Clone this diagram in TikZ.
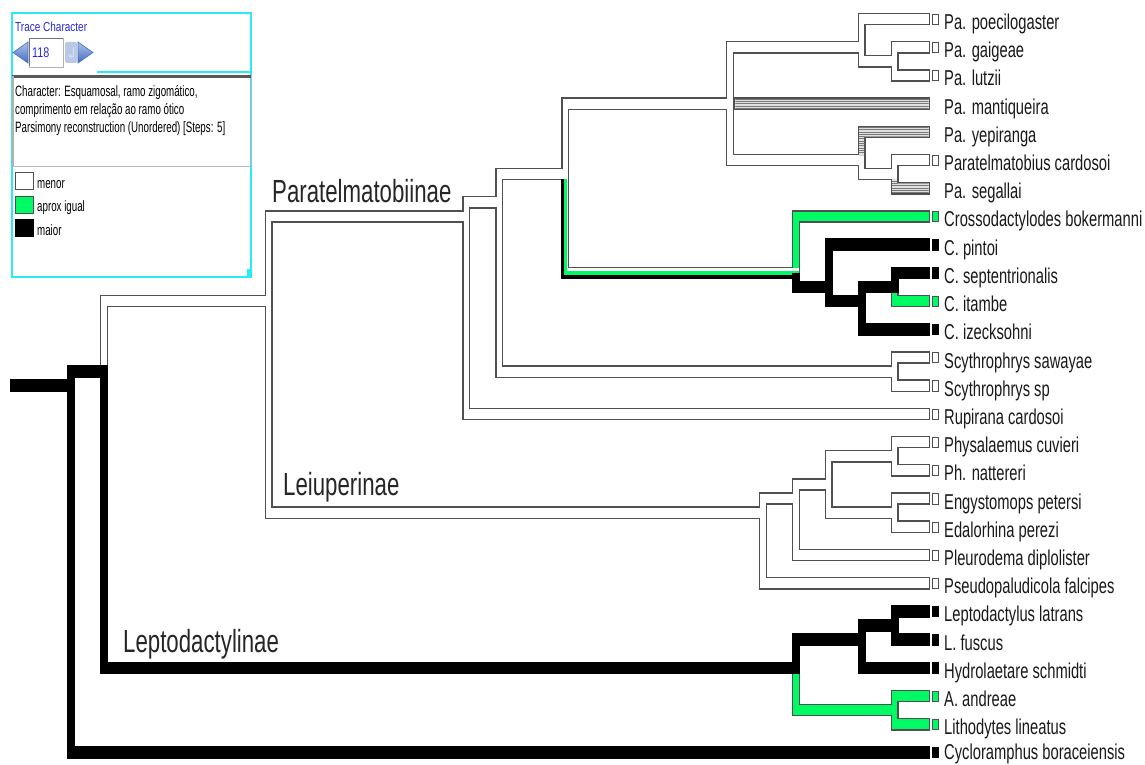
\documentclass[tikz,border=0pt]{standalone}
\usepackage{fontspec}
\setmainfont{Liberation Sans}
\newfontfamily\leaffont{Liberation Sans}[FakeStretch=0.685]
\newfontfamily\cladefont{Liberation Sans}[FakeStretch=0.695]
\newfontfamily\panelfont{Liberation Sans}[FakeStretch=0.65]
\newfontfamily\tracefont{Liberation Sans}[FakeStretch=0.77]
\definecolor{tgreen}{RGB}{0,250,100}
\definecolor{tcyan}{RGB}{40,235,245}
\definecolor{tline}{RGB}{80,80,80}
\definecolor{tblue}{RGB}{40,40,220}
\definecolor{tarrowA}{RGB}{170,195,235}
\definecolor{tarrowB}{RGB}{70,110,190}
\definecolor{tbtn}{RGB}{185,200,228}
\definecolor{thatch}{RGB}{225,225,225}
\definecolor{thatchl}{RGB}{120,120,120}

\newcommand\BandH{6.3}
\newcommand\BandW{8}
\newcommand\OutT{1.4}

% branch: parent k, parent mean leaf index, child k (-1 = leaf), child mean index, style
\newcommand\B[5]{%
 \pgfmathsetmacro\xp{67+32.95*#1}%
 \pgfmathsetmacro\yp{19+(#2-1)*28.21}%
 \ifdim #3pt<0pt \def\xe{930}\else\pgfmathsetmacro\xe{67+32.95*#3+8}\fi
 \pgfmathsetmacro\yc{19+(#4-1)*28.21}%
 \ifdim\yc pt=\yp pt \pgfmathsetmacro\hx{\xp+\BandW}\else\let\hx\xp\fi
 \csname dopass\passname\endcsname{#5}{#3}%
}
\newcommand\outerR[1]{%
 \ifdim\yc pt<\yp pt \fill[#1] ({\xp},{\yc-\BandH}) rectangle ({\xp+\BandW},{\yp});\fi
 \ifdim\yc pt>\yp pt \fill[#1] ({\xp},{\yp}) rectangle ({\xp+\BandW},{\yc+\BandH});\fi
 \fill[#1] ({\hx},{\yc-\BandH}) rectangle ({\xe},{\yc+\BandH});
}
\newcommand\innerR[1]{%
 \ifdim\yc pt<\yp pt \fill[#1] ({\xp+\OutT},{\yc-\BandH+\OutT}) rectangle ({\xp+\BandW-\OutT},{\yp-\BandH+\OutT+0.3});\fi
 \ifdim\yc pt>\yp pt \fill[#1] ({\xp+\OutT},{\yp+\BandH-\OutT-0.3}) rectangle ({\xp+\BandW-\OutT},{\yc+\BandH-\OutT});\fi
 \fill[#1] ({\hx+\OutT},{\yc-\BandH+\OutT}) rectangle ({\xe-\OutT},{\yc+\BandH-\OutT});
}
% hatched fill: light fill, then clipped horizontal grey lines
\newcommand\hatchR{%
 \innerR{thatch}%
 \begin{scope}
 \ifdim\yc pt<\yp pt \clip ({\xp+\OutT},{\yc-\BandH+\OutT}) rectangle ({\xp+\BandW-\OutT},{\yp-\BandH+\OutT+0.3})
   ({\hx+\OutT},{\yc-\BandH+\OutT}) rectangle ({\xe-\OutT},{\yc+\BandH-\OutT});
 \else\ifdim\yc pt>\yp pt \clip ({\xp+\OutT},{\yp+\BandH-\OutT-0.3}) rectangle ({\xp+\BandW-\OutT},{\yc+\BandH-\OutT})
   ({\hx+\OutT},{\yc-\BandH+\OutT}) rectangle ({\xe-\OutT},{\yc+\BandH-\OutT});
 \else \clip ({\hx+\OutT},{\yc-\BandH+\OutT}) rectangle ({\xe-\OutT},{\yc+\BandH-\OutT});
 \fi\fi
 \pgfmathsetmacro\ylo{min(\yc,\yp)-\BandH}%
 \pgfmathsetmacro\ycount{int((abs(\yc-\yp)+2*\BandH)/2.3)+1}%
 \foreach \q in {0,...,\ycount}
   \draw[thatchl,line width=1] ({\xp},{\ylo+1.9+2.3*\q}) -- ({\xe},{\ylo+1.9+2.3*\q});
 \end{scope}
}
\newcommand\dopassO[2]{\if#1b\else\outerR{tline}\fi}
\newcommand\dopassW[2]{\if#1w\innerR{white}\fi\if#1h\hatchR\fi}
\newcommand\dopassG[2]{\if#1g\innerR{tgreen}\fi}
\newcommand\dopassK[2]{\if#1b\outerR{black}\fi}
\newcommand\dopassL[2]{\ifdim #2pt<0pt
 \if#1w\draw[tline,line width=0.9,fill=white] (932.2,{\yc-4.8}) rectangle (938.8,{\yc+5.4});\fi
 \if#1g\draw[tline,line width=0.9,fill=tgreen] (932.2,{\yc-4.8}) rectangle (938.8,{\yc+5.4});\fi
 \if#1b\fill[black] (931.8,{\yc-5.4}) rectangle (939.4,{\yc+6});\fi
 \fi}

\newcommand\Btree{%
\B{0}{14}{1}{13.5}{b}
\B{0}{14}{-1}{27}{b}
\B{1}{13.5}{6}{11}{w}
\B{1}{13.5}{22}{24}{b}
\B{6}{11}{12}{8}{w}
\B{6}{11}{21}{18.5}{w}
\B{12}{8}{13}{7.5}{w}
\B{12}{8}{-1}{15}{w}
\B{13}{7.5}{15}{6.5}{w}
\B{13}{7.5}{25}{13.5}{w}
\B{15}{6.5}{20}{4}{w}
\B{15}{6.5}{22}{10}{e}
\B{20}{4}{24}{2}{w}
\B{20}{4}{-1}{4}{h}
\B{20}{4}{24}{6}{w}
\B{24}{2}{-1}{1}{w}
\B{24}{2}{25}{2.5}{w}
\B{25}{2.5}{-1}{2}{w}
\B{25}{2.5}{-1}{3}{w}
\B{24}{6}{-1}{5}{h}
\B{24}{6}{25}{6.5}{w}
\B{25}{6.5}{-1}{6}{w}
\B{25}{6.5}{-1}{7}{h}
\B{22}{10}{-1}{8}{g}
\B{22}{10}{23}{10.5}{b}
\B{23}{10.5}{-1}{9}{b}
\B{23}{10.5}{24}{11}{b}
\B{24}{11}{25}{10.5}{b}
\B{25}{10.5}{-1}{10}{b}
\B{25}{10.5}{-1}{11}{g}
\B{24}{11}{-1}{12}{b}
\B{25}{13.5}{-1}{13}{w}
\B{25}{13.5}{-1}{14}{w}
\B{21}{18.5}{22}{18}{w}
\B{21}{18.5}{-1}{21}{w}
\B{22}{18}{23}{17.5}{w}
\B{22}{18}{-1}{20}{w}
\B{23}{17.5}{25}{16.5}{w}
\B{23}{17.5}{25}{18.5}{w}
\B{25}{16.5}{-1}{16}{w}
\B{25}{16.5}{-1}{17}{w}
\B{25}{18.5}{-1}{18}{w}
\B{25}{18.5}{-1}{19}{w}
\B{22}{24}{24}{23}{b}
\B{22}{24}{25}{25.5}{g}
\B{24}{23}{25}{22.5}{b}
\B{24}{23}{-1}{24}{b}
\B{25}{22.5}{-1}{22}{b}
\B{25}{22.5}{-1}{23}{b}
\B{25}{25.5}{-1}{25}{g}
\B{25}{25.5}{-1}{26}{g}
}

\tikzset{
 leaf/.style={anchor=base west,inner sep=0pt,font=\leaffont\fontsize{21.5}{21.5}\selectfont,text=black!90},
 clade/.style={anchor=base west,inner sep=0pt,font=\cladefont\fontsize{32}{32}\selectfont,text=black!85},
 ptext/.style={anchor=base west,inner sep=0pt,font=\panelfont\fontsize{15}{15}\selectfont},
 trace/.style={anchor=base west,inner sep=0pt,font=\tracefont\fontsize{13}{13}\selectfont,text=tblue}
}

\begin{document}
\begin{tikzpicture}[x=1pt,y=-1pt]
\useasboundingbox (0,0) rectangle (1145,765);
\fill[white] (0,0) rectangle (1145,765);

% ---- tree ----
\def\passname{O}\Btree
\def\passname{W}\Btree
\def\passname{G}\Btree
% equivocal branch R -> S (white / green / black stripes)
\pgfmathsetmacro\xR{67+32.95*15}
\pgfmathsetmacro\yR{19+5.5*28.21}
\pgfmathsetmacro\yS{19+9*28.21}
\pgfmathsetmacro\xSe{67+32.95*22+8-\OutT}
\fill[black] ({\xR},{\yR+\BandH-\OutT}) rectangle ({\xR+\BandW-\OutT},{\yS+\BandH});
\fill[black] ({\xR},{\yS-\BandH+\OutT}) rectangle ({\xSe},{\yS+\BandH});
\fill[tgreen] ({\xR+2.7},{\yR+\BandH-\OutT}) rectangle ({\xR+\BandW-\OutT},{\yS+2.1});
\fill[tgreen] ({\xR+2.7},{\yS-\BandH+\OutT}) rectangle ({\xSe},{\yS+2.1});
\fill[white] ({\xR+5.4},{\yR+\BandH-\OutT}) rectangle ({\xR+\BandW-\OutT},{\yS-2.1});
\fill[white] ({\xR+5.4},{\yS-\BandH+\OutT}) rectangle ({\xSe},{\yS-2.1});
\def\passname{K}\Btree
% root stub
\fill[black] (10,{19+13*28.21-\BandH}) rectangle (75,{19+13*28.21+\BandH});
\def\passname{L}\Btree

% ---- leaf names ----
\foreach \i/\t in {1/Pa. poecilogaster,2/Pa. gaigeae,3/Pa. lutzii,4/Pa. mantiqueira,5/Pa. yepiranga,6/Paratelmatobius cardosoi,7/Pa. segallai,8/Crossodactylodes bokermanni,9/C. pintoi,10/C. septentrionalis,11/C. itambe,12/C. izecksohni,13/Scythrophrys sawayae,14/Scythrophrys sp,15/Rupirana cardosoi,16/Physalaemus cuvieri,17/Ph. nattereri,18/Engystomops petersi,19/Edalorhina perezi,20/Pleurodema diplolister,21/Pseudopaludicola falcipes,22/Leptodactylus latrans,23/L. fuscus,24/Hydrolaetare schmidti,25/A. andreae,26/Lithodytes lineatus}
 \node[leaf] (leaf\i) at (944,{19+(\i-1)*28.21+10.5}) {\t};
\node[leaf] (leaf27) at (944,759.5) {Cycloramphus boraceiensis};

% ---- clade labels ----
\node[clade] (lbPara) at (272,202) {Paratelmatobiinae};
\node[clade] (lbLeiu) at (283,495) {Leiuperinae};
\node[clade] (lbLepto) at (123,652) {Leptodactylinae};

% ---- trace character panel ----
\draw[tcyan,line width=2] (12,13) rectangle (251,277);
\node[trace] (trace) at (15,31.5) {Trace Character};
\shade[top color=tarrowA,bottom color=tarrowB] (13,52.5) -- (28,42) -- (28,63) -- cycle;
\draw[tarrowB,line width=0.6] (13,52.5) -- (28,42) -- (28,63) -- cycle;
\draw[gray!60,fill=white] (29,38) rectangle (63,67);
\draw[gray!90!black,line width=1] (29.5,66) -- (29.5,38.5) -- (62.5,38.5);
\node[anchor=base west,inner sep=0pt,font=\tracefont\fontsize{14}{14}\selectfont,text=tblue] (num) at (32,58) {118};
\fill[tbtn,rounded corners=1.5] (65,42) rectangle (77,63);
\draw[white!85!blue,line width=0.8,-stealth] (73.5,47) -- (73.5,56) -- (68,56);
\shade[top color=tarrowA,bottom color=tarrowB] (78,42) -- (93,52.5) -- (78,63) -- cycle;
\draw[tarrowB,line width=0.6] (78,42) -- (93,52.5) -- (78,63) -- cycle;
\draw[tcyan,line width=1.5] (97,72) -- (251,72);
\draw[gray!55] (12,75) rectangle (251,166);
\draw[gray!70!black,line width=2.2] (12,76.6) -- (251,76.6);
\draw[gray!60,line width=1.5] (13,76) -- (13,166);
\node[ptext] (c1) at (15,97) {Character: Esquamosal, ramo zigomático,};
\node[ptext] (c2) at (15,114.5) {comprimento em relação ao ramo ótico};
\node[ptext] (c3) at (15,132) {Parsimony reconstruction (Unordered) [Steps: 5]};
\draw[tline,line width=1,fill=white] (15.5,172.5) rectangle (33,189);
\node[ptext] (lg1) at (37,188) {menor};
\draw[tline,line width=1,fill=tgreen] (15.5,196.5) rectangle (33,213);
\node[ptext] (lg2) at (37,211) {aprox igual};
\fill[black] (15,219) rectangle (33.5,237);
\node[ptext] (lg3) at (37,235) {maior};
\fill[tcyan] (247,269) rectangle (251,277);
\end{tikzpicture}
\end{document}
